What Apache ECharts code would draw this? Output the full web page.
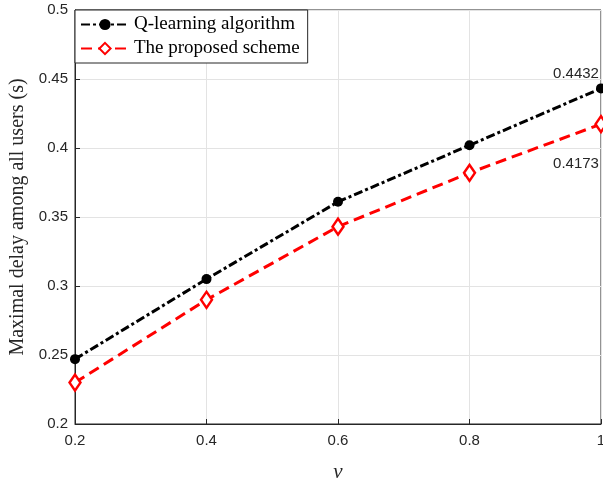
<!DOCTYPE html>
<html><head><meta charset="utf-8">
<script src="https://cdn.jsdelivr.net/npm/echarts@6/dist/echarts.min.js"></script>
<style>html,body{margin:0;padding:0;background:#fff}#c{width:603px;height:478px}</style>
</head><body><div id="c"></div>
<script>
const nu = [0.2, 0.4, 0.6, 0.8, 1.0];
const qLearning = [0.247, 0.305, 0.361, 0.402, 0.4432];
const proposed = [0.230, 0.290, 0.343, 0.382, 0.4173];
const seriesNames = ['Q-learning algorithm', 'The proposed scheme'];
const annotQ = '0.4432';
const annotP = '0.4173';

function mk(vals, annot, labelCfg) {
  return vals.map((v, i) => {
    const d = { value: [nu[i], v] };
    if (i === vals.length - 1) {
      d.label = Object.assign({ show: true, formatter: annot, fontFamily: 'Liberation Sans, Arial', fontSize: 15, color: '#262626' }, labelCfg);
    }
    return d;
  });
}

const chart = echarts.init(document.getElementById('c'), null, { renderer: 'canvas' });
const axisFont = { fontFamily: 'Liberation Sans, Arial', fontSize: 15, color: '#262626' };
chart.setOption({
  animation: false,
  grid: { left: 75, right: 2, top: 10, bottom: 54, show: true, borderColor: '#262626', borderWidth: 1, containLabel: false, outerBoundsMode: 'none' },
  legend: {
    left: 75, top: 10, orient: 'vertical', itemGap: 5, padding: [5, 8, 5, 5],
    itemWidth: 48, itemHeight: 14,
    borderColor: '#262626', borderWidth: 1, backgroundColor: '#fff',
    textStyle: { fontFamily: 'Liberation Serif, Times New Roman', fontSize: 19, color: '#000' },
    data: seriesNames
  },
  xAxis: {
    type: 'value', min: 0.2, max: 1, interval: 0.2,
    name: 'ν', nameLocation: 'middle', nameGap: 38,
    nameTextStyle: { fontFamily: 'Liberation Serif, Times New Roman', fontStyle: 'italic', fontSize: 21, color: '#262626' },
    axisLine: { show: true, lineStyle: { color: '#262626' } },
    axisTick: { show: true, inside: true, length: 5, lineStyle: { color: '#262626' } },
    axisLabel: Object.assign({ margin: 9, formatter: v => String(+v.toFixed(2)) }, axisFont),
    splitLine: { show: true, lineStyle: { color: '#e3e3e3' } }
  },
  yAxis: {
    type: 'value', min: 0.2, max: 0.5, interval: 0.05,
    name: 'Maximal delay among all users (s)', nameLocation: 'middle', nameGap: 45,
    nameTextStyle: { fontFamily: 'Liberation Serif, Times New Roman', fontSize: 20, color: '#262626' },
    axisLine: { show: true, lineStyle: { color: '#262626' } },
    axisTick: { show: true, inside: true, length: 5, lineStyle: { color: '#262626' } },
    axisLabel: Object.assign({ margin: 7, formatter: v => String(+v.toFixed(2)) }, axisFont),
    splitLine: { show: true, lineStyle: { color: '#e3e3e3' } }
  },
  series: [
    {
      name: seriesNames[0], type: 'line', data: mk(qLearning, annotQ, { position: 'top', offset: [-25, 3] }),
      symbol: 'circle', symbolSize: 10,
      itemStyle: { color: '#000' },
      lineStyle: { color: '#000', width: 3, type: [9, 3, 3, 3] },
      z: 3
    },
    {
      name: seriesNames[1], type: 'line', data: mk(proposed, annotP, { position: 'bottom', offset: [-25, 18] }),
      symbol: 'diamond', symbolSize: [11, 16],
      itemStyle: { color: '#fff', borderColor: '#ff0000', borderWidth: 2.5 },
      lineStyle: { color: '#ff0000', width: 3, type: [11, 6] },
      z: 2
    }
  ]
});
</script></body></html>
